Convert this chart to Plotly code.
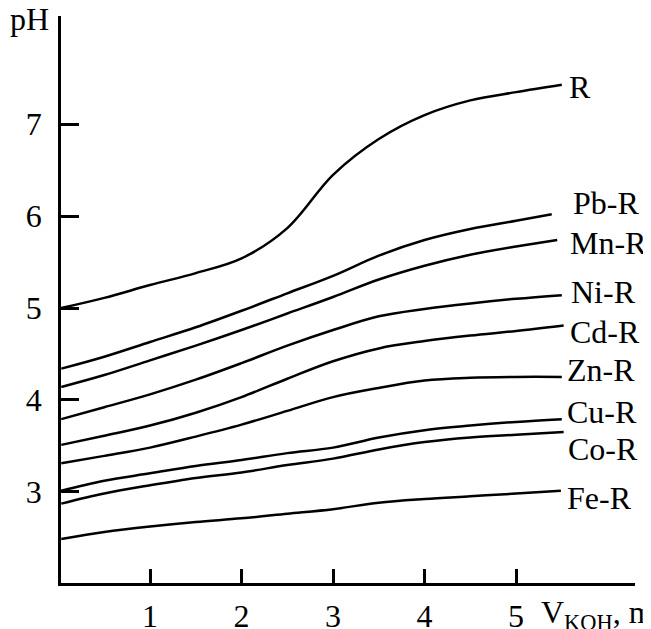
import plotly.graph_objects as go

# ---- data ----
series_names = ["R", "Pb-R", "Mn-R", "Ni-R", "Cd-R", "Zn-R", "Cu-R", "Co-R", "Fe-R"]

x_common = [0.03, 0.5, 1.0, 1.5, 2.0, 2.5, 3.0, 3.5, 4.0, 4.5, 5.0]

x_R = x_common + [5.5]
y_R = [5.0, 5.11, 5.25, 5.38, 5.54, 5.87, 6.45, 6.84, 7.1, 7.26, 7.35, 7.43]

x_Pb = x_common + [5.39]
y_Pb = [4.34, 4.47, 4.63, 4.79, 4.97, 5.16, 5.35, 5.57, 5.74, 5.86, 5.95, 6.02]

x_Mn = x_common + [5.45]
y_Mn = [4.14, 4.27, 4.43, 4.59, 4.76, 4.94, 5.12, 5.31, 5.46, 5.58, 5.67, 5.74]

x_Ni = x_common + [5.5]
y_Ni = [3.79, 3.92, 4.06, 4.22, 4.40, 4.59, 4.76, 4.91, 4.99, 5.05, 5.10, 5.14]

x_Cd = x_common + [5.52]
y_Cd = [3.51, 3.61, 3.72, 3.86, 4.03, 4.23, 4.42, 4.56, 4.64, 4.70, 4.75, 4.81]

x_Zn = x_common + [5.5]
y_Zn = [3.31, 3.39, 3.48, 3.60, 3.73, 3.88, 4.03, 4.13, 4.21, 4.24, 4.25, 4.25]

x_Cu = x_common + [5.5]
y_Cu = [3.01, 3.12, 3.20, 3.28, 3.345, 3.42, 3.48, 3.59, 3.67, 3.72, 3.76, 3.79]

x_Co = x_common + [5.52]
y_Co = [2.87, 2.98, 3.07, 3.15, 3.21, 3.29, 3.36, 3.46, 3.54, 3.59, 3.62, 3.65]

x_Fe = x_common + [5.49]
y_Fe = [2.485, 2.56, 2.62, 2.67, 2.71, 2.76, 2.81, 2.88, 2.92, 2.95, 2.98, 3.01]

x_ticks = [1, 2, 3, 4, 5]
y_ticks = [3, 4, 5, 6, 7]

series_x = [x_R, x_Pb, x_Mn, x_Ni, x_Cd, x_Zn, x_Cu, x_Co, x_Fe]
series_y = [y_R, y_Pb, y_Mn, y_Ni, y_Cd, y_Zn, y_Cu, y_Co, y_Fe]

# ---- layout (label placement, not data) ----
label_pos = [(5.56, 7.41), (5.60, 6.14), (5.57, 5.71), (5.58, 5.17), (5.57, 4.74),
             (5.54, 4.33), (5.54, 3.87), (5.55, 3.46), (5.54, 2.93)]

FONT = "Liberation Serif, Times New Roman, serif"
FS = 32

fig = go.Figure()
for name, xs, ys in zip(series_names, series_x, series_y):
    fig.add_trace(go.Scatter(x=xs, y=ys, mode="lines", name=name,
                             line=dict(color="black", width=2.5, shape="spline", smoothing=1.0),
                             showlegend=False, hoverinfo="skip"))

annotations = []
for name, (lx, ly) in zip(series_names, label_pos):
    annotations.append(dict(x=lx, y=ly, xref="x", yref="y", text=name, showarrow=False,
                            xanchor="left", yanchor="middle",
                            font=dict(family=FONT, size=FS, color="black")))
annotations.append(dict(x=-0.017, y=1.03, xref="paper", yref="paper", text="pH",
                        showarrow=False, xanchor="right", yanchor="top",
                        font=dict(family=FONT, size=FS, color="black")))
annotations.append(dict(x=0.832, y=-0.015, xref="paper", yref="paper",
                        text="V<sub>KOH</sub>, ml", showarrow=False,
                        xanchor="left", yanchor="top",
                        font=dict(family=FONT, size=FS, color="black")))

# the page body has an 8px margin, so the figure is sized/offset to compensate
fig.update_layout(
    width=643, height=621,
    margin=dict(l=53, r=16, t=8, b=46, autoexpand=False),
    paper_bgcolor="white", plot_bgcolor="white",
    annotations=annotations,
    font=dict(family=FONT, size=FS, color="black"),
)
fig.update_xaxes(range=[0.027, 6.30], tickvals=x_ticks, ticks="inside", ticklen=14,
                 tickwidth=2.5, tickcolor="black", showline=True, linewidth=2.5,
                 linecolor="black", showgrid=False, zeroline=False, automargin=False,
                 ticklabelstandoff=3, tickfont=dict(family=FONT, size=FS))
fig.update_yaxes(range=[2.006, 8.179], tickvals=y_ticks, ticks="inside", ticklen=18,
                 tickwidth=2.5, tickcolor="black", showline=True, linewidth=2.5,
                 linecolor="black", showgrid=False, zeroline=False, automargin=False,
                 ticklabelstandoff=10, tickfont=dict(family=FONT, size=FS))

fig.write_html("out.html")
